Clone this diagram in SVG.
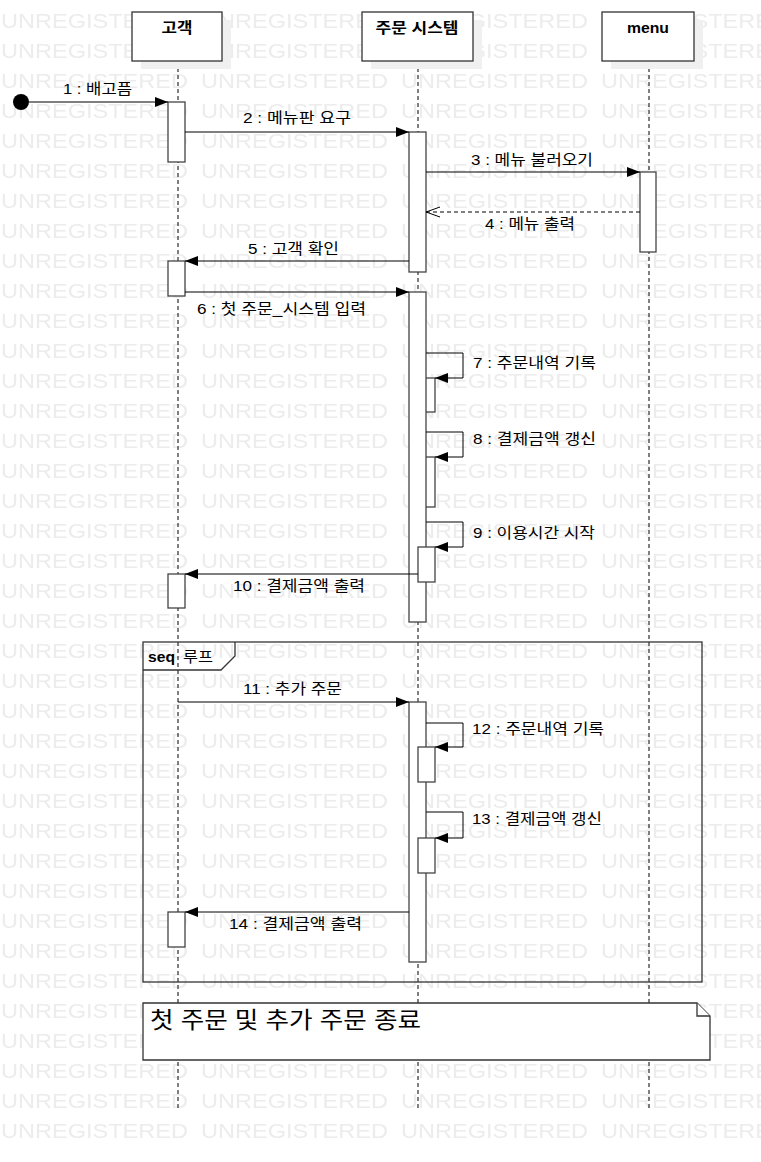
<svg xmlns="http://www.w3.org/2000/svg" width="761" height="1162" viewBox="0 0 761 1162">
<style>
.bg{fill:#ffffff}
.wm{font-family:"Liberation Sans",Arial,sans-serif;font-size:21px;fill:#ececec}
.life{stroke:#000;stroke-width:1;stroke-dasharray:4,3;fill:none}
.head{fill:#fff;stroke:#333;stroke-width:1.3}
.shadow{fill:#f0f0f0}
.hl{font-family:"Liberation Sans","Noto Sans CJK KR",sans-serif;font-size:15px;font-weight:bold;fill:#000;text-anchor:middle}
.act{fill:#fff;stroke:#444;stroke-width:1.3}
.msg{stroke:#000;stroke-width:1;fill:none}
.ret{stroke:#000;stroke-width:1;fill:none;stroke-dasharray:4,3}
.lbl{font-family:"Liberation Sans","Noto Sans CJK KR",sans-serif;font-size:15px;fill:#000}
.frame{fill:none;stroke:#333;stroke-width:1.3}
.note{fill:#fff;stroke:#333;stroke-width:1.3}
</style>
<defs>
<marker id="fill" markerUnits="userSpaceOnUse" markerWidth="14" markerHeight="11" refX="13" refY="5" orient="auto">
<path d="M0,0 L13,5 L0,10 z" fill="#000"/>
</marker>
<marker id="open" markerUnits="userSpaceOnUse" markerWidth="16" markerHeight="12" refX="14" refY="6" orient="auto">
<path d="M0,1 L14,6 L0,11" fill="none" stroke="#000" stroke-width="1"/>
</marker>
<pattern id="wmp" patternUnits="userSpaceOnUse" x="0" y="0" width="200" height="30">
<text class="wm" x="1" y="28" textLength="187" lengthAdjust="spacingAndGlyphs">UNREGISTERED</text>
</pattern>
</defs>
<rect class="bg" x="0" y="0" width="761" height="1162"/>
<rect id="watermark" x="0" y="0" width="761" height="1145" fill="url(#wmp)"/>

<g id="lifelines">
<line class="life" x1="178" y1="61" x2="178" y2="1110"/>
<line class="life" x1="418" y1="61" x2="418" y2="1110"/>
<line class="life" x1="649" y1="61" x2="649" y2="1110"/>
</g>

<g id="frame-loop">
<rect class="frame" x="143" y="642" width="559" height="340"/>
<path class="frame" d="M143,670 L221,670 L235,656 L235,642"/>
<text class="lbl" x="148" y="662"><tspan font-weight="bold" textLength="27" lengthAdjust="spacingAndGlyphs">seq</tspan></text>
<text class="lbl" x="183" y="662" textLength="30" lengthAdjust="spacingAndGlyphs">루프</text>
</g>

<g id="activations">
<rect class="act" x="168" y="102" width="17" height="60"/>
<rect class="act" x="168" y="261" width="17" height="35"/>
<rect class="act" x="168" y="574" width="17" height="34"/>
<rect class="act" x="168" y="912" width="17" height="35"/>
<rect class="act" x="409" y="132" width="17" height="140"/>
<rect class="act" x="418" y="378" width="17" height="34"/>
<rect class="act" x="418" y="457" width="17" height="50"/>
<rect class="act" x="409" y="292" width="17" height="330"/>
<rect class="act" x="418" y="547" width="17" height="35"/>
<rect class="act" x="409" y="702" width="17" height="260"/>
<rect class="act" x="418" y="747" width="17" height="35"/>
<rect class="act" x="418" y="838" width="17" height="35"/>
<rect class="act" x="640" y="172" width="16" height="80"/>
</g>

<g id="connectors">
<circle cx="21" cy="102" r="8" fill="#000"/>
<line class="msg" x1="29" y1="102" x2="168" y2="102" marker-end="url(#fill)"/>
<line class="msg" x1="185" y1="132" x2="409" y2="132" marker-end="url(#fill)"/>
<line class="msg" x1="426" y1="172" x2="640" y2="172" marker-end="url(#fill)"/>
<line class="ret" x1="640" y1="212" x2="426" y2="212" marker-end="url(#open)"/>
<line class="msg" x1="409" y1="261" x2="185" y2="261" marker-end="url(#fill)"/>
<line class="msg" x1="185" y1="292" x2="409" y2="292" marker-end="url(#fill)"/>
<polyline class="msg" points="426,353 463,353 463,378 435,378" marker-end="url(#fill)"/>
<polyline class="msg" points="426,432 463,432 463,457 435,457" marker-end="url(#fill)"/>
<polyline class="msg" points="426,522 463,522 463,547 435,547" marker-end="url(#fill)"/>
<line class="msg" x1="418" y1="574" x2="185" y2="574" marker-end="url(#fill)"/>
<line class="msg" x1="178" y1="702" x2="409" y2="702" marker-end="url(#fill)"/>
<polyline class="msg" points="426,723 463,723 463,747 435,747" marker-end="url(#fill)"/>
<polyline class="msg" points="426,812 463,812 463,838 435,838" marker-end="url(#fill)"/>
<line class="msg" x1="409" y1="912" x2="185" y2="912" marker-end="url(#fill)"/>
</g>

<g id="labels">
<text class="lbl" x="63" y="94" textLength="69" lengthAdjust="spacingAndGlyphs">1 : 배고픔</text>
<text class="lbl" x="243" y="123" textLength="108" lengthAdjust="spacingAndGlyphs">2 : 메뉴판 요구</text>
<text class="lbl" x="471" y="165" textLength="122" lengthAdjust="spacingAndGlyphs">3 : 메뉴 불러오기</text>
<text class="lbl" x="485" y="229" textLength="90" lengthAdjust="spacingAndGlyphs">4 : 메뉴 출력</text>
<text class="lbl" x="248" y="254" textLength="91" lengthAdjust="spacingAndGlyphs">5 : 고객 확인</text>
<text class="lbl" x="197" y="314" textLength="169" lengthAdjust="spacingAndGlyphs">6 : 첫 주문_시스템 입력</text>
<text class="lbl" x="473" y="368" textLength="123" lengthAdjust="spacingAndGlyphs">7 : 주문내역 기록</text>
<text class="lbl" x="473" y="444" textLength="123" lengthAdjust="spacingAndGlyphs">8 : 결제금액 갱신</text>
<text class="lbl" x="473" y="538" textLength="122" lengthAdjust="spacingAndGlyphs">9 : 이용시간 시작</text>
<text class="lbl" x="233" y="591" textLength="132" lengthAdjust="spacingAndGlyphs">10 : 결제금액 출력</text>
<text class="lbl" x="243" y="694" textLength="99" lengthAdjust="spacingAndGlyphs">11 : 추가 주문</text>
<text class="lbl" x="472" y="734" textLength="132" lengthAdjust="spacingAndGlyphs">12 : 주문내역 기록</text>
<text class="lbl" x="472" y="824" textLength="130" lengthAdjust="spacingAndGlyphs">13 : 결제금액 갱신</text>
<text class="lbl" x="229" y="929" textLength="133" lengthAdjust="spacingAndGlyphs">14 : 결제금액 출력</text>
</g>

<g id="node-customer">
<rect class="shadow" x="141" y="20" width="90" height="49"/>
<rect class="head" x="132" y="12" width="90" height="49"/>
<text class="hl" x="177" y="33" textLength="31" lengthAdjust="spacingAndGlyphs">고객</text>
</g>
<g id="node-order-system">
<rect class="shadow" x="371" y="20" width="111" height="49"/>
<rect class="head" x="362" y="12" width="111" height="49"/>
<text class="hl" x="417" y="33" textLength="83" lengthAdjust="spacingAndGlyphs">주문 시스템</text>
</g>
<g id="node-menu">
<rect class="shadow" x="611" y="20" width="92" height="49"/>
<rect class="head" x="602" y="12" width="92" height="49"/>
<text class="hl" x="648" y="33" textLength="42" lengthAdjust="spacingAndGlyphs">menu</text>
</g>

<g id="note-end">
<path class="note" d="M143,1003 L697,1003 L710,1016 L710,1060 L143,1060 Z"/>
<path class="note" d="M697,1003 L697,1016 L710,1016"/>
<text class="lbl" x="150" y="1028" style="font-size:23px" textLength="271" lengthAdjust="spacingAndGlyphs">첫 주문 및 추가 주문 종료</text>
</g>
</svg>
